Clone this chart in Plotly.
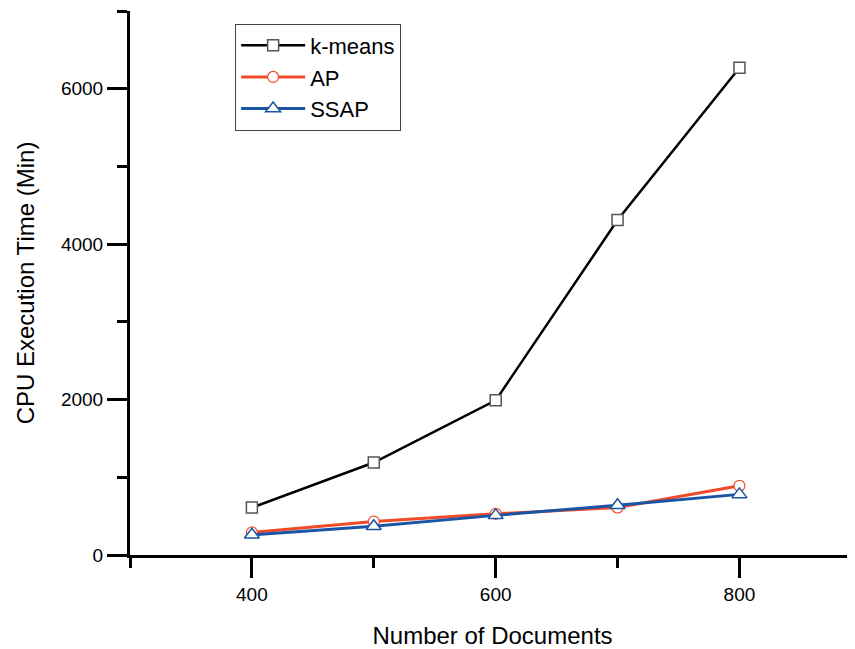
import plotly.graph_objects as go

docs = [400, 500, 600, 700, 800]
kmeans = [610, 1190, 1990, 4310, 6270]
ap = [290, 430, 530, 610, 890]
ssap = [260, 370, 510, 640, 780]

x_major = [400, 600, 800]
y_major = [0, 2000, 4000, 6000]

FONT = "Arial, Liberation Sans, sans-serif"

fig = go.Figure()
fig.add_trace(go.Scatter(
    x=docs, y=kmeans, name="k-means", mode="lines+markers",
    line=dict(color="#000000", width=2.5),
    marker=dict(symbol="square", size=11, color="white",
                line=dict(color="#555555", width=1.5)),
))
fig.add_trace(go.Scatter(
    x=docs, y=ap, name="AP", mode="lines+markers",
    line=dict(color="#F04A2A", width=3),
    marker=dict(symbol="circle", size=11, color="white",
                line=dict(color="#F04A2A", width=1.2)),
))
fig.add_trace(go.Scatter(
    x=docs, y=ssap, name="SSAP", mode="lines+markers",
    line=dict(color="#1A55A5", width=3),
    marker=dict(symbol="triangle-up", size=13, color="white",
                line=dict(color="#1A55A5", width=1.5)),
))

# page body has an 8px margin, so the figure is shrunk and shifted to compensate
fig.update_layout(
    width=847, height=641,
    margin=dict(l=122, r=0, t=3, b=94),
    paper_bgcolor="white", plot_bgcolor="white",
    font=dict(family=FONT, color="black"),
    showlegend=True,
    legend=dict(
        x=0.145, y=0.977, xanchor="left", yanchor="top",
        bordercolor="#444444", borderwidth=1, bgcolor="white",
        font=dict(size=22, family=FONT), tracegroupgap=0,
        itemwidth=64,
    ),
    xaxis=dict(
        range=[300, 894.8], showgrid=False, zeroline=False,
        showline=True, linecolor="black", linewidth=3,
        tickmode="array", tickvals=x_major, ticktext=[str(v) for v in x_major],
        ticks="outside", ticklen=20, tickwidth=3, tickcolor="black",
        tickfont=dict(size=19, family=FONT),
        minor=dict(tickmode="array", tickvals=[300, 500, 700, 900],
                   ticks="outside", ticklen=10, tickwidth=3, tickcolor="black",
                   showgrid=False),
        title=dict(text="Number of Documents", font=dict(size=24, family=FONT), standoff=24),
    ),
    yaxis=dict(
        range=[0, 7000], showgrid=False, zeroline=False,
        showline=True, linecolor="black", linewidth=3,
        tickmode="array", tickvals=y_major, ticktext=[str(v) for v in y_major],
        ticks="outside", ticklen=20, tickwidth=3, tickcolor="black",
        tickfont=dict(size=19, family=FONT),
        minor=dict(tickmode="array", tickvals=[1000, 3000, 5000, 7000],
                   ticks="outside", ticklen=10, tickwidth=3, tickcolor="black",
                   showgrid=False),
        title=dict(text="CPU Execution Time (Min)", font=dict(size=24, family=FONT), standoff=20),
    ),
)

fig.write_html("out.html")
